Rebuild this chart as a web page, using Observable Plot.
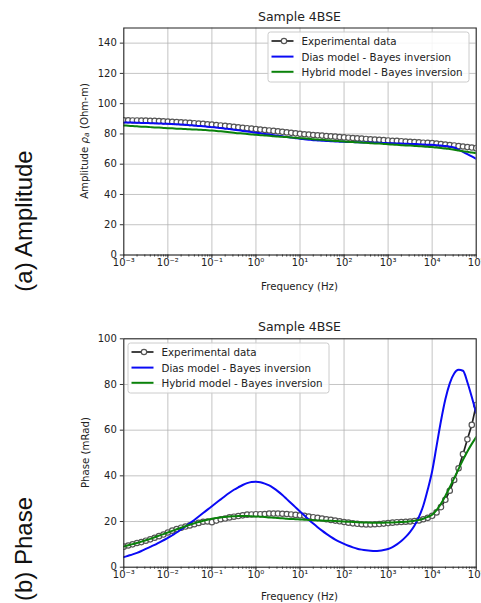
<!DOCTYPE html>
<html><head><meta charset="utf-8">
<script src="https://cdn.jsdelivr.net/npm/d3@7"></script>
<script src="https://cdn.jsdelivr.net/npm/@observablehq/plot@0.6"></script>
<style>
html,body{margin:0;padding:0;background:#fff;overflow:hidden}
#wrap{position:relative;width:481px;height:603px;background:#fff}
.panel{position:absolute;left:0}
</style></head><body><div id="wrap"></div>
<script>
// log10 of frequency (Hz) for each sample
const logFreq = [-3.0,-2.9,-2.8,-2.7,-2.6,-2.5,-2.4,-2.3,-2.2,-2.1,-2.0,-1.9,-1.8,-1.7,-1.6,-1.5,-1.4,-1.3,-1.2,-1.1,-1.0,-0.9,-0.8,-0.7,-0.6,-0.5,-0.4,-0.3,-0.2,-0.1,0.0,0.1,0.2,0.3,0.4,0.5,0.6,0.7,0.8,0.9,1.0,1.1,1.2,1.3,1.4,1.5,1.6,1.7,1.8,1.9,2.0,2.1,2.2,2.3,2.4,2.5,2.6,2.7,2.8,2.9,3.0,3.1,3.2,3.3,3.4,3.5,3.6,3.7,3.8,3.9,4.0,4.1,4.2,4.3,4.4,4.5,4.6,4.7,4.8,4.9,5.0];

// Amplitude (Ohm-m)
const ampExperimental = [89.0,89.0,88.9,88.9,88.8,88.8,88.7,88.6,88.5,88.3,88.2,88.0,87.9,87.7,87.5,87.3,87.1,86.9,86.7,86.4,86.2,85.9,85.6,85.3,85.0,84.7,84.4,84.1,83.8,83.5,83.2,82.9,82.6,82.3,82.0,81.7,81.4,81.0,80.7,80.4,80.1,79.8,79.6,79.3,79.1,78.9,78.6,78.4,78.2,77.9,77.7,77.5,77.3,77.1,76.9,76.7,76.5,76.3,76.1,75.9,75.7,75.5,75.4,75.2,75.0,74.8,74.6,74.4,74.2,74.1,73.9,73.6,73.3,73.0,72.7,72.4,72.0,71.7,71.3,71.0,70.6];
const ampDias = [87.6,87.6,87.5,87.4,87.3,87.2,87.1,87.0,86.9,86.8,86.7,86.5,86.4,86.2,86.0,85.8,85.6,85.3,85.1,84.8,84.5,84.2,83.9,83.5,83.2,82.8,82.4,82.0,81.6,81.2,80.8,80.4,80.0,79.6,79.2,78.8,78.4,78.0,77.6,77.2,76.8,76.5,76.2,75.9,75.7,75.5,75.3,75.2,75.0,74.9,74.8,74.7,74.6,74.5,74.4,74.4,74.3,74.2,74.1,74.0,73.9,73.8,73.7,73.6,73.5,73.4,73.3,73.2,73.0,72.9,72.8,72.6,72.3,72.0,71.6,71.0,69.6,68.1,66.6,65.1,63.6];
const ampHybrid = [85.6,85.4,85.2,85.0,84.8,84.7,84.5,84.3,84.2,84.0,83.8,83.7,83.5,83.4,83.2,83.1,82.9,82.8,82.6,82.5,82.3,82.0,81.7,81.4,81.1,80.8,80.5,80.3,80.0,79.7,79.4,79.2,79.0,78.8,78.5,78.3,78.1,77.9,77.6,77.4,77.2,77.0,76.8,76.5,76.3,76.1,75.9,75.7,75.4,75.2,75.0,74.8,74.6,74.5,74.3,74.1,73.9,73.7,73.6,73.4,73.2,73.0,72.8,72.6,72.4,72.3,72.1,71.9,71.7,71.5,71.3,71.0,70.7,70.4,70.0,69.6,69.1,68.6,68.2,67.7,67.3];

// Phase (mRad)
const phaseExperimental = [9.0,9.5,10.0,10.6,11.0,11.6,12.2,12.9,13.6,14.3,15.2,16.0,16.7,17.3,17.8,18.3,18.8,19.4,19.9,20.0,19.7,20.4,21.0,21.3,21.8,22.1,22.4,22.7,23.0,23.1,23.2,23.2,23.3,23.5,23.5,23.5,23.4,23.3,23.1,22.9,22.7,22.5,22.2,21.9,21.6,21.3,21.0,20.7,20.4,20.1,19.8,19.5,19.2,19.0,18.8,18.7,18.7,18.8,18.9,19.1,19.3,19.5,19.7,19.8,19.9,20.0,20.2,20.5,21.0,21.6,22.5,24.0,26.3,29.5,33.5,38.2,43.3,49.5,56.0,62.3,71.0];
const phaseDias = [4.4,5.0,5.6,6.3,7.1,8.0,8.9,9.8,10.8,11.8,12.8,14.0,15.2,16.5,17.8,19.2,20.7,22.2,23.7,25.2,26.7,28.2,29.7,31.2,32.6,33.9,35.0,36.0,36.8,37.3,37.4,37.2,36.6,35.8,34.6,33.2,31.6,29.8,28.0,26.2,24.4,22.6,20.8,19.1,17.5,16.0,14.6,13.3,12.1,11.1,10.2,9.4,8.7,8.1,7.7,7.4,7.2,7.1,7.2,7.5,8.0,8.8,10.0,11.5,13.3,15.5,18.3,22.0,27.0,34.0,42.0,53.0,64.0,73.5,80.5,84.8,86.4,86.0,81.0,74.5,67.5];
const phaseHybrid = [9.1,9.6,10.1,10.6,11.2,11.8,12.4,13.1,13.8,14.5,15.2,15.9,16.6,17.3,17.9,18.6,19.2,19.8,20.3,20.8,21.2,21.5,21.8,22.0,22.2,22.3,22.4,22.4,22.4,22.3,22.2,22.1,22.0,21.8,21.7,21.5,21.4,21.2,21.1,21.0,20.9,20.8,20.7,20.6,20.5,20.4,20.3,20.3,20.2,20.1,20.0,19.9,19.8,19.7,19.6,19.6,19.5,19.5,19.5,19.5,19.6,19.6,19.7,19.8,19.9,20.1,20.3,20.7,21.2,22.0,23.0,25.0,27.8,31.2,35.0,39.0,43.0,47.0,50.7,54.0,57.0];

// Axis ticks and labels
const xTicks = [1e-3,1e-2,1e-1,1e0,1e1,1e2,1e3,1e4,1e5];
const xTickLabels = ["10\u207B\u00B3","10\u207B\u00B2","10\u207B\u00B9","10\u2070","10\u00B9","10\u00B2","10\u00B3","10\u2074","10\u2075"];
const ampYTicks = [0,20,40,60,80,100,120,140];
const phaseYTicks = [0,20,40,60,80,100];
const seriesNames = ["Experimental data","Dias model - Bayes inversion","Hybrid model - Bayes inversion"];
const chartTitle = "Sample 4BSE";

const FONT = "DejaVu Sans, sans-serif";
const BLUE = "#0a0af5", GREEN = "#0a820a", DARK = "#222", MARK = "#555";

function rows(vals){ return logFreq.map((e,i)=>({f: Math.pow(10,e), v: vals[i]})); }

function panel(cfg){
  const W = 481;
  const exp = rows(cfg.exp), dias = rows(cfg.dias), hyb = rows(cfg.hyb);
  const minor = d3.scaleLog().domain([1e-3,1e5]).ticks();
  const svg = Plot.plot({
    width: W, height: cfg.height,
    marginLeft: 123.3, marginRight: W-475.7, marginTop: cfg.mt, marginBottom: cfg.height-cfg.fb,
    x: {type: "log", domain: [1e-3,1e5], label: null},
    y: {domain: cfg.yDomain, label: null},
    style: {fontFamily: FONT, fontSize: "10px", color: DARK, background: "white", overflow: "visible"},
    marks: [
      Plot.gridX(xTicks, {stroke: "#b0b0b0", strokeOpacity: 0.75, strokeWidth: 1}),
      Plot.gridY(cfg.yTicks, {stroke: "#b0b0b0", strokeOpacity: 0.75, strokeWidth: 1}),
      Plot.line(exp, {x: "f", y: "v", stroke: DARK, strokeWidth: 1.7, clip: true}),
      Plot.dot(exp, {x: "f", y: "v", r: 2.7, fill: "white", stroke: MARK, strokeWidth: 1.2, clip: true}),
      Plot.line(dias, {x: "f", y: "v", stroke: BLUE, strokeWidth: 2, curve: "monotone-x", clip: true}),
      Plot.line(hyb, {x: "f", y: "v", stroke: GREEN, strokeWidth: 2, curve: "monotone-x", clip: true}),
      Plot.frame({stroke: "#222", strokeWidth: 1}),
      Plot.axisX({ticks: minor, tickSize: 2, tickFormat: () => "", label: null, stroke: "#333"}),
      Plot.axisX({ticks: xTicks, tickSize: 3.5, tickPadding: 0, label: null, stroke: "#333",
                  tickFormat: d => xTickLabels[xTicks.indexOf(d)]}),
      Plot.axisY({ticks: cfg.yTicks, tickSize: 3.5, tickPadding: 3.5, label: null, stroke: "#333"})
    ]
  });
  const s = d3.select(svg);
  const g = s.append("g").attr("font-family", FONT).attr("fill", DARK);
  g.append("text").attr("x", 299.5).attr("y", 16.7).attr("text-anchor","middle")
   .attr("dominant-baseline","central").attr("font-size", 12.5).text(chartTitle);
  g.append("text").attr("x", 299.5).attr("y", 286).attr("text-anchor","middle")
   .attr("dominant-baseline","central").attr("font-size", 10.2).text("Frequency (Hz)");
  const yl = g.append("text").attr("transform", `translate(${cfg.ylx},${(cfg.mt+cfg.fb)/2}) rotate(-90)`)
   .attr("text-anchor","middle").attr("dominant-baseline","central").attr("font-size", 10.2);
  cfg.yLabel(yl);
  g.append("text").attr("transform", `translate(23,${cfg.bigY}) rotate(-90)`)
   .attr("text-anchor","middle").attr("dominant-baseline","central")
   .attr("font-family","Liberation Sans, Arial, sans-serif").attr("font-size", 24).attr("fill","#111")
   .text(cfg.big);
  // legend
  const L = cfg.legend;
  const lg = s.append("g").attr("font-family", FONT).attr("text-anchor","start");
  lg.append("rect").attr("x", L.x).attr("y", L.y).attr("width", 201).attr("height", 50).attr("rx", 2.5)
    .attr("fill","white").attr("fill-opacity",0.85).attr("stroke","#cccccc").attr("stroke-width",1);
  const ry = [L.y+9, L.y+24.6, L.y+39.8];
  const hx0 = L.x+3.5, hx1 = L.x+25.5, tx = L.x+33.5;
  const cols = [DARK, BLUE, GREEN];
  seriesNames.forEach((name,i)=>{
    lg.append("line").attr("x1",hx0).attr("x2",hx1).attr("y1",ry[i]).attr("y2",ry[i])
      .attr("stroke",cols[i]).attr("stroke-width", i===0?1.7:2);
    if(i===0) lg.append("circle").attr("cx",(hx0+hx1)/2+1.5).attr("cy",ry[i]).attr("r",2.7)
      .attr("fill","white").attr("stroke",MARK).attr("stroke-width",1.2);
    lg.append("text").attr("x",tx).attr("y",ry[i]).attr("dominant-baseline","central")
      .attr("text-anchor","start").attr("font-size",10.3).attr("fill",DARK).text(name);
  });
  const div = document.createElement("div");
  div.className = "panel"; div.style.top = cfg.top + "px";
  div.appendChild(svg);
  document.getElementById("wrap").appendChild(div);
}

panel({
  top: 0, height: 300, mt: 27.5, fb: 254.5, yDomain: [0,150], yTicks: ampYTicks,
  exp: ampExperimental, dias: ampDias, hyb: ampHybrid,
  ylx: 83.5,
  yLabel: t => { t.append("tspan").text("Amplitude ");
                 t.append("tspan").attr("font-style","italic").text("\u03C1");
                 t.append("tspan").attr("font-style","italic").attr("font-size",7.5).attr("dy",2).text("a");
                 t.append("tspan").attr("dy",-2).text(" (Ohm-m)"); },
  big: "(a) Amplitude", bigY: 221,
  legend: {x: 268, y: 32}
});
panel({
  top: 310, height: 293, mt: 28.3, fb: 256.7, yDomain: [0,100], yTicks: phaseYTicks,
  exp: phaseExperimental, dias: phaseDias, hyb: phaseHybrid,
  ylx: 85.5,
  yLabel: t => t.text("Phase (mRad)"),
  big: "(b) Phase", bigY: 239,
  legend: {x: 128, y: 33}
});
</script></body></html>
